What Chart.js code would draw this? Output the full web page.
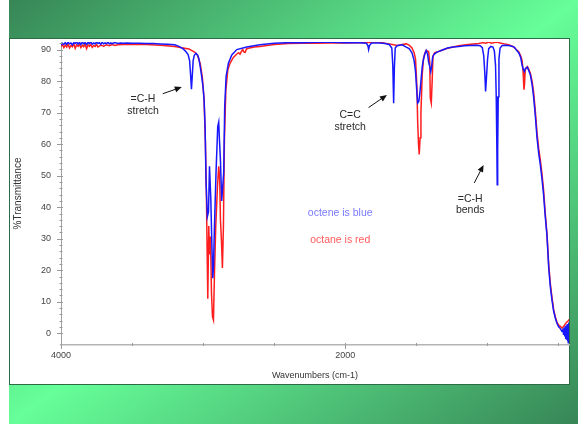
<!DOCTYPE html>
<html lang="en">
<head>
  <meta charset="UTF-8">
  <title>IR spectra: octene vs octane</title>
  <style>
    html, body { margin: 0; padding: 0; background: #fff; }
    #slide {
      position: relative;
      width: 578px;
      height: 424px;
      overflow: hidden;
    }
    #bg {
      position: absolute;
      left: 9px; top: 0;
      width: 569px; height: 424px;
      background: linear-gradient(to bottom right, #378656 0%, #66ff99 50%, #378656 100%);
    }
    #panel {
      position: absolute;
      left: 9px; top: 38px;
      width: 559px; height: 345px;
      background: #fff;
      border: 1px solid #2d6a46;
    }
    #chart { position: absolute; left: 0; top: 0; }
  </style>
</head>
<body>
  <div id="slide">
    <div id="bg"></div>
    <div id="panel"></div>
    <canvas id="chart" width="578" height="424"></canvas>
  </div>

  <script src="https://cdn.jsdelivr.net/npm/chart.js"></script>
  <script>
    // axis ticks
    var xTicks = [4000, 3500, 3000, 2500, 2000, 1500, 1000, 500];
    var xLabels = [4000, 2000];
    var yTicks = [0, 10, 20, 30, 40, 50, 60, 70, 80, 90];

    // 1-octene spectrum [wavenumber, %T] (blue)
    var octene = [
      [4000, 91.4], [3990, 92.0], [3980, 91.6], [3970, 92.2], [3960, 91.7], [3950, 92.3], [3940, 91.8], [3930, 92.1],
      [3920, 91.5], [3910, 92.2], [3900, 91.9], [3890, 92.4], [3880, 91.7], [3870, 92.3], [3860, 91.6], [3850, 92.4],
      [3840, 91.8], [3830, 92.2], [3820, 91.6], [3810, 92.3], [3800, 91.9], [3790, 92.4], [3780, 91.7], [3770, 92.1],
      [3760, 91.8], [3750, 92.4], [3740, 91.9], [3730, 92.2], [3720, 91.7], [3710, 92.3], [3700, 91.8], [3690, 92.1],
      [3680, 91.9], [3670, 92.3], [3660, 91.8], [3650, 92.1], [3640, 91.9], [3620, 92.2], [3600, 91.9], [3580, 92.1],
      [3560, 92.0], [3540, 92.1], [3500, 92.0], [3450, 92.0], [3400, 91.9], [3350, 91.9], [3300, 91.8], [3250, 91.7],
      [3200, 91.5], [3170, 91.0], [3140, 90.2], [3120, 89.3], [3105, 88.3], [3095, 86.5], [3088, 82.0], [3082, 77.4],
      [3077, 81.0], [3070, 86.5], [3062, 88.2], [3050, 88.8], [3040, 88.3], [3030, 87.2], [3020, 84.5], [3010, 81.5],
      [3000, 78.0], [2993, 74.0], [2986, 65.6], [2979, 47.7], [2970, 37.0], [2962, 38.5], [2955, 53.0], [2946, 43.0],
      [2939, 29.6], [2932, 17.5], [2927, 21.0], [2920, 34.0], [2909, 51.0], [2897, 65.6], [2890, 67.0], [2885, 61.4],
      [2878, 55.0], [2869, 42.0], [2862, 46.5], [2855, 51.0], [2848, 72.0], [2838, 81.5], [2822, 85.7], [2798, 88.3],
      [2763, 90.0], [2693, 90.8], [2600, 91.5], [2500, 92.0], [2400, 92.2], [2300, 92.2], [2200, 92.3], [2100, 92.3],
      [2000, 92.2], [1900, 92.2], [1850, 92.0], [1840, 91.2], [1835, 90.0], [1829, 91.3], [1815, 92.1], [1760, 92.1],
      [1720, 91.9], [1690, 91.6], [1672, 90.5], [1665, 85.0], [1659, 73.0], [1654, 84.0], [1648, 90.5], [1635, 91.2],
      [1600, 91.5], [1570, 90.8], [1550, 90.3], [1530, 89.0], [1515, 86.5], [1505, 83.0], [1495, 76.0], [1490, 73.0],
      [1482, 73.5], [1475, 76.0], [1467, 80.0], [1458, 84.5], [1449, 87.0], [1440, 88.5], [1430, 89.7], [1420, 88.5],
      [1413, 86.0], [1405, 84.6], [1398, 83.0], [1392, 84.5], [1385, 87.5], [1375, 88.5], [1354, 89.2], [1320, 89.8],
      [1280, 90.5], [1240, 90.8], [1200, 91.0], [1160, 91.2], [1120, 91.3], [1080, 91.4], [1050, 91.2], [1035, 90.6],
      [1025, 88.0], [1018, 83.0], [1012, 76.7], [1006, 81.0], [998, 87.0], [990, 90.3], [975, 91.0], [960, 90.8],
      [950, 89.5], [942, 85.0], [937, 75.0], [933, 60.0], [930, 47.1], [927, 58.0], [923, 75.0], [918, 87.0],
      [910, 90.5], [895, 91.3], [870, 91.4], [840, 91.2], [810, 90.8], [790, 89.5], [779, 89.0], [765, 87.5],
      [755, 85.0], [745, 83.5], [739, 83.0], [732, 84.0], [725, 84.2], [718, 84.4], [710, 83.5], [697, 82.0],
      [685, 79.0], [674, 75.0], [662, 69.0], [650, 62.0], [638, 57.0], [627, 53.5], [615, 49.0], [604, 44.0],
      [592, 37.0], [580, 31.0], [568, 21.0], [557, 15.0], [545, 10.6], [533, 7.0], [521, 4.8], [510, 3.2],
      [498, 2.1], [486, 1.5], [474, 0.6], [468, 1.5], [463, -0.5], [459, 1.8], [455, -1.0], [451, 2.2],
      [448, -1.8], [445, 2.5], [442, -2.0], [439, 2.8], [436, -2.5], [433, 3.0], [430, -3.0], [427, 3.4], [425, -2.0]
    ];

    // n-octane spectrum [wavenumber, %T] (red)
    var octane = [
      [4000, 91.0], [3990, 91.6], [3980, 90.6], [3970, 91.4], [3960, 90.8], [3950, 91.7], [3940, 90.5], [3930, 91.3],
      [3920, 90.9], [3910, 91.8], [3900, 90.4], [3890, 91.5], [3880, 91.0], [3870, 91.6], [3860, 90.6], [3850, 91.4],
      [3840, 90.9], [3830, 91.7], [3820, 90.3], [3810, 91.5], [3800, 91.0], [3790, 91.6], [3780, 90.7], [3770, 91.3],
      [3760, 91.0], [3750, 91.6], [3740, 90.8], [3720, 91.4], [3700, 91.1], [3680, 91.5], [3660, 91.2], [3640, 91.6],
      [3620, 91.3], [3600, 91.5], [3560, 91.6], [3500, 91.7], [3400, 91.6], [3300, 91.4], [3200, 91.0], [3150, 90.6],
      [3100, 90.2], [3060, 89.2], [3040, 88.3], [3020, 85.5], [3005, 81.0], [2993, 74.0], [2984, 61.0], [2977, 45.0],
      [2972, 27.5], [2967, 11.0], [2960, 34.0], [2955, 25.0], [2948, 30.7], [2941, 12.7], [2934, 5.3], [2927, 4.2],
      [2920, 19.0], [2911, 34.0], [2899, 46.5], [2890, 53.0], [2883, 48.7], [2878, 36.0], [2871, 29.6], [2864, 20.7],
      [2857, 34.0], [2850, 61.4], [2840, 77.0], [2826, 83.6], [2810, 85.7], [2787, 87.5], [2763, 88.6], [2750, 89.0],
      [2740, 88.5], [2730, 89.4], [2721, 90.0], [2712, 89.2], [2704, 89.1], [2695, 90.2], [2681, 90.4], [2640, 90.8],
      [2600, 91.0], [2500, 91.6], [2400, 91.9], [2300, 92.0], [2200, 92.0], [2100, 92.1], [2000, 92.1], [1900, 92.2],
      [1800, 92.3], [1760, 92.4], [1720, 92.0], [1690, 91.8], [1660, 91.5], [1630, 91.3], [1600, 91.6], [1570, 91.8],
      [1550, 91.4], [1530, 90.5], [1515, 89.0], [1505, 87.0], [1495, 78.0], [1490, 67.0], [1484, 60.0], [1479, 56.7],
      [1473, 62.0], [1467, 70.0], [1458, 82.0], [1449, 87.0], [1440, 88.8], [1430, 89.7], [1413, 89.4], [1405, 86.0],
      [1401, 74.6], [1394, 73.0], [1388, 80.0], [1382, 88.0], [1370, 89.0], [1354, 89.2], [1320, 89.8], [1280, 90.4],
      [1240, 90.8], [1200, 91.2], [1150, 91.5], [1100, 91.8], [1060, 91.9], [1030, 92.2], [1010, 92.0], [990, 92.4],
      [970, 92.0], [950, 92.2], [930, 92.4], [910, 92.1], [880, 91.8], [850, 91.5], [820, 91.0], [800, 90.2],
      [779, 89.3], [765, 88.0], [755, 86.5], [748, 83.0], [742, 77.3], [738, 79.0], [733, 83.5], [725, 84.2],
      [718, 84.6], [710, 84.0], [697, 82.5], [685, 80.0], [674, 76.5], [662, 70.5], [650, 63.5], [638, 58.5],
      [627, 55.0], [615, 50.5], [604, 45.5], [592, 38.0], [580, 31.5], [568, 22.0], [557, 16.0], [545, 11.5],
      [533, 7.5], [521, 5.2], [510, 3.6], [498, 2.6], [486, 2.2], [474, 1.7], [462, 2.2], [451, 3.0],
      [440, 3.6], [430, 4.0], [425, 4.4]
    ];

    // annotations, in data coordinates [wavenumber, %T]
    var noteText = [['=C-H', 'stretch'], ['C=C', 'stretch'], ['=C-H', 'bends']];
    var noteAt = [[3423, 74.2], [1965, 69.2], [1120, 42.6]];
    var arrowFrom = [[3284, 76.0], [1836, 71.6], [1092, 47.7]];
    var arrowTo = [[3150, 78.1], [1706, 75.6], [1026, 53.4]];
    var keyText = ['octene is blue', 'octane is red'];
    var keyAt = [[2035, 38.2], [2035, 29.6]];
    var keyColor = ['#7a7aff', '#ff5c5c'];

    var FONT = '"Liberation Sans", Arial, sans-serif';

    // small axis tick marks (major + minor) drawn along the axes
    var axisTicks = {
      id: 'axisTicks',
      afterDraw: function(chart) {
        var ctx = chart.ctx, xs = chart.scales.x, ys = chart.scales.y;
        var x0 = chart.chartArea.left, y0 = chart.chartArea.bottom;
        ctx.save();
        ctx.strokeStyle = '#9a9a9a';
        ctx.lineWidth = 1;
        ctx.beginPath();
        for (var v = 0; v <= 92; v += 2) {
          var py = Math.round(ys.getPixelForValue(v)) + 0.5;
          if (v % 10 === 0) { ctx.moveTo(x0 - 4, py); ctx.lineTo(x0 + 2, py); }
          else { ctx.moveTo(x0 - 1.5, py); ctx.lineTo(x0 + 1.5, py); }
        }
        xTicks.forEach(function(t) {
          var px = Math.round(xs.getPixelForValue(t)) + 0.5;
          if (xLabels.indexOf(t) >= 0) { ctx.moveTo(px, y0 - 2); ctx.lineTo(px, y0 + 4); }
          else { ctx.moveTo(px, y0 - 2); ctx.lineTo(px, y0 + 1); }
        });
        ctx.stroke();
        ctx.restore();
      }
    };

    // text labels and arrows
    var notes = {
      id: 'notes',
      afterDraw: function(chart) {
        var ctx = chart.ctx, xs = chart.scales.x, ys = chart.scales.y;
        function px(p) { return [xs.getPixelForValue(p[0]), ys.getPixelForValue(p[1])]; }
        ctx.save();
        ctx.font = '10.5px ' + FONT;
        ctx.textAlign = 'center';
        ctx.textBaseline = 'middle';
        noteText.forEach(function(lines, i) {
          var c = px(noteAt[i]);
          ctx.fillStyle = '#2a2a2a';
          lines.forEach(function(s, k) { ctx.fillText(s, c[0], c[1] + k * 11.5); });
          var a = px(arrowFrom[i]), b = px(arrowTo[i]);
          var ang = Math.atan2(b[1] - a[1], b[0] - a[0]);
          ctx.strokeStyle = '#111';
          ctx.lineWidth = 1;
          ctx.beginPath();
          ctx.moveTo(a[0], a[1]);
          ctx.lineTo(b[0] - 5 * Math.cos(ang), b[1] - 5 * Math.sin(ang));
          ctx.stroke();
          ctx.fillStyle = '#111';
          ctx.beginPath();
          ctx.moveTo(b[0], b[1]);
          ctx.lineTo(b[0] - 7 * Math.cos(ang) + 3 * Math.sin(ang), b[1] - 7 * Math.sin(ang) - 3 * Math.cos(ang));
          ctx.lineTo(b[0] - 7 * Math.cos(ang) - 3 * Math.sin(ang), b[1] - 7 * Math.sin(ang) + 3 * Math.cos(ang));
          ctx.closePath();
          ctx.fill();
        });
        keyText.forEach(function(s, i) {
          var c = px(keyAt[i]);
          ctx.fillStyle = keyColor[i];
          ctx.fillText(s, c[0], c[1]);
        });
        ctx.restore();
      }
    };

    function toXY(arr) { return arr.map(function(p) { return { x: p[0], y: p[1] }; }); }

    var ctx = document.getElementById('chart').getContext('2d');
    new Chart(ctx, {
      type: 'line',
      data: {
        datasets: [{
          label: 'octene',
          data: toXY(octene),
          borderColor: '#1818ff',
          borderWidth: 1.5,
          pointRadius: 0,
          tension: 0
        }, {
          label: 'octane',
          data: toXY(octane),
          borderColor: '#ff1e1e',
          borderWidth: 1.5,
          pointRadius: 0,
          tension: 0
        }]
      },
      options: {
        responsive: false,
        animation: false,
        layout: { padding: { top: 42, right: 9, bottom: 39, left: 0 } },
        plugins: { legend: { display: false }, tooltip: { enabled: false } },
        scales: {
          x: {
            type: 'linear',
            reverse: true,
            min: 425,
            max: 4000,
            afterBuildTicks: function(s) { s.ticks = xTicks.map(function(v) { return { value: v }; }); },
            afterFit: function(s) { s.height = 40; },
            grid: { display: false, drawTicks: false },
            border: { display: true, color: '#b4b4b4', width: 1.5 },
            ticks: {
              autoSkip: false,
              maxRotation: 0,
              padding: 5,
              color: '#444',
              font: { family: FONT, size: 9 },
              callback: function(v) { return xLabels.indexOf(v) >= 0 ? String(v) : ''; }
            },
            title: {
              display: true,
              text: 'Wavenumbers (cm-1)',
              color: '#333',
              font: { family: FONT, size: 9 },
              padding: { top: 0, bottom: 4 }
            }
          },
          y: {
            min: -3.7,
            max: 92.4,
            afterBuildTicks: function(s) { s.ticks = yTicks.map(function(v) { return { value: v }; }); },
            afterFit: function(s) { s.width = 61; },
            grid: { display: false, drawTicks: false },
            border: { display: true, color: '#a0a0a0', width: 1 },
            ticks: {
              padding: 10,
              color: '#444',
              font: { family: FONT, size: 9 }
            },
            title: {
              display: true,
              text: '%Transmittance',
              color: '#333',
              font: { family: FONT, size: 10 },
              padding: { top: 12, bottom: 0 }
            }
          }
        }
      },
      plugins: [axisTicks, notes]
    });
  </script>
</body>
</html>
